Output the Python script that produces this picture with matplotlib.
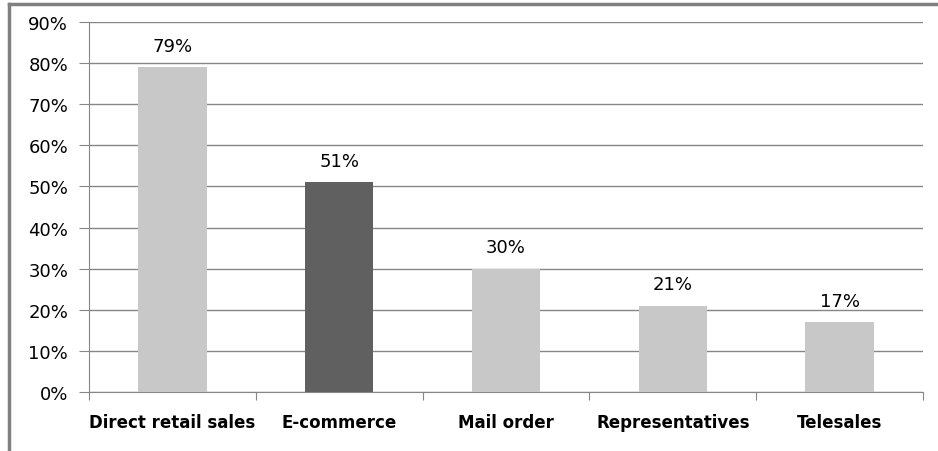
import matplotlib
matplotlib.use("Agg")
import matplotlib.pyplot as plt
from matplotlib.lines import Line2D

categories = ["Direct retail sales", "E-commerce", "Mail order", "Representatives", "Telesales"]
values = [79, 51, 30, 21, 17]
bar_colors = ["#c8c8c8", "#606060", "#c8c8c8", "#c8c8c8", "#c8c8c8"]
yticks = [0, 10, 20, 30, 40, 50, 60, 70, 80, 90]

W, H = 938, 452
fig = plt.figure(figsize=(W / 100, H / 100), dpi=100)
ax = fig.add_axes([89 / W, (H - 393) / H, (923 - 89) / W, (393 - 23) / H])

x = list(range(len(categories)))
ax.bar(x, values, width=0.41, color=bar_colors, zorder=3)
for xi, v in zip(x, values):
    ax.text(xi, v + 3, f"{v}%", ha="center", va="bottom", fontsize=13, color="#000000")

ax.set_xlim(-0.5, len(categories) - 0.5)
ax.set_ylim(0, 90)
ax.set_yticks(yticks)
ax.set_yticklabels([f"{t}%" for t in yticks], fontsize=13)
ax.yaxis.grid(True, color="#868686", linewidth=1.0, zorder=0)
ax.set_axisbelow(True)

ax.set_xticks([i + 0.5 for i in range(-1, len(categories))], minor=False)
ax.set_xticklabels([])
ax.tick_params(axis="x", length=6, color="#868686", direction="out")
ax.set_xticks(x, minor=True)
ax.set_xticklabels(categories, minor=True, fontsize=12, fontweight="bold")
ax.tick_params(axis="x", which="minor", length=0, pad=15)
ax.tick_params(axis="y", length=7, color="#868686", pad=8)

for s in ["top", "right"]:
    ax.spines[s].set_visible(False)
for s in ["left", "bottom"]:
    ax.spines[s].set_color("#868686")

# outer frame lines (left and top)
fig.add_artist(Line2D([8.5 / W, 8.5 / W], [0, 1 - 5 / H], transform=fig.transFigure, color="#808080", linewidth=2.5))
fig.add_artist(Line2D([8.5 / W, 1], [1 - 5 / H, 1 - 5 / H], transform=fig.transFigure, color="#808080", linewidth=2.5))

fig.savefig("out.png", dpi=100)
